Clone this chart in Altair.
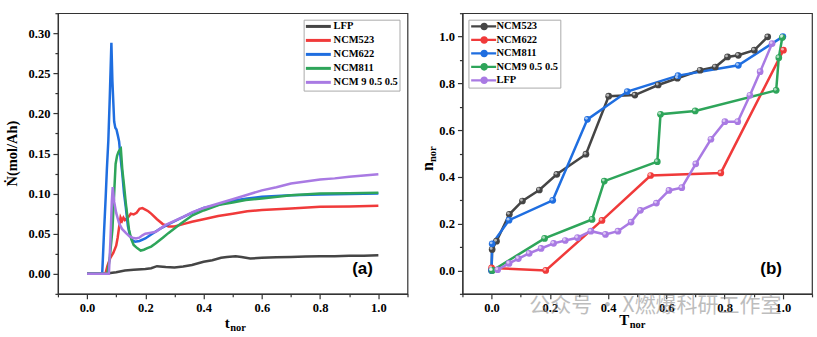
import altair as alt
import pandas as pd

# ---------------- panel (a) data ----------------
a_series = ["LFP", "NCM523", "NCM622", "NCM811", "NCM 9 0.5 0.5"]
a_colors = ["#454545", "#f03a3a", "#1f6ee0", "#2ea55a", "#a97ae3"]

lfp_t = [0, 0.065, 0.08, 0.1, 0.13, 0.16, 0.2, 0.22, 0.24, 0.27, 0.3, 0.33, 0.36, 0.4, 0.43, 0.46, 0.48, 0.51, 0.53, 0.56, 0.6, 0.65, 0.7, 0.75, 0.8, 0.85, 0.9, 0.95, 1.0]
lfp_v = [0, 0, 0.001, 0.002, 0.004, 0.005, 0.006, 0.007, 0.0095, 0.0085, 0.008, 0.009, 0.011, 0.015, 0.017, 0.020, 0.021, 0.022, 0.021, 0.019, 0.020, 0.0205, 0.021, 0.0215, 0.022, 0.022, 0.0225, 0.0225, 0.023]

n523_t = [0, 0.063, 0.07, 0.08, 0.09, 0.1, 0.105, 0.11, 0.115, 0.12, 0.125, 0.13, 0.14, 0.15, 0.16, 0.17, 0.18, 0.19, 0.2, 0.21, 0.22, 0.24, 0.26, 0.28, 0.3, 0.33, 0.36, 0.4, 0.45, 0.5, 0.55, 0.6, 0.7, 0.8, 0.9, 1.0]
n523_v = [0, 0, 0.01, 0.02, 0.026, 0.035, 0.045, 0.058, 0.07, 0.066, 0.07, 0.067, 0.07, 0.075, 0.074, 0.076, 0.081, 0.082, 0.08, 0.078, 0.075, 0.068, 0.062, 0.059, 0.059, 0.062, 0.065, 0.068, 0.072, 0.075, 0.078, 0.0795, 0.0815, 0.0835, 0.084, 0.085]

n622_t = [0, 0.052, 0.058, 0.064, 0.068, 0.073, 0.078, 0.0835, 0.087, 0.093, 0.097, 0.101, 0.106, 0.11, 0.115, 0.121, 0.127, 0.133, 0.14, 0.147, 0.155, 0.165, 0.18, 0.2, 0.22, 0.25, 0.28, 0.32, 0.36, 0.4, 0.45, 0.5, 0.55, 0.6, 0.7, 0.8, 0.9, 1.0]
n622_v = [0, 0, 0.05, 0.096, 0.13, 0.166, 0.22, 0.288, 0.24, 0.19, 0.182, 0.18, 0.172, 0.165, 0.145, 0.125, 0.1, 0.083, 0.06, 0.048, 0.042, 0.04, 0.041, 0.044, 0.049, 0.056, 0.062, 0.069, 0.076, 0.082, 0.086, 0.091, 0.094, 0.096, 0.098, 0.099, 0.0995, 0.1]

n811_t = [0, 0.07, 0.078, 0.087, 0.093, 0.098, 0.103, 0.108, 0.113, 0.116, 0.121, 0.127, 0.133, 0.139, 0.144, 0.152, 0.16, 0.172, 0.184, 0.195, 0.207, 0.22, 0.236, 0.26, 0.28, 0.32, 0.362, 0.4, 0.454, 0.5, 0.545, 0.6, 0.7, 0.8, 0.9, 1.0]
n811_v = [0, 0, 0.02, 0.055, 0.1, 0.137, 0.147, 0.152, 0.155, 0.156, 0.13, 0.11, 0.088, 0.07, 0.055, 0.043, 0.036, 0.032, 0.029, 0.03, 0.032, 0.034, 0.038, 0.045, 0.051, 0.062, 0.073, 0.079, 0.086, 0.089, 0.092, 0.094, 0.098, 0.1, 0.1005, 0.101]

n9_t = [0, 0.075, 0.08, 0.085, 0.088, 0.093, 0.1, 0.11, 0.12, 0.133, 0.145, 0.156, 0.168, 0.179, 0.19, 0.2, 0.215, 0.236, 0.25, 0.27, 0.3, 0.33, 0.362, 0.4, 0.454, 0.5, 0.545, 0.6, 0.65, 0.7, 0.75, 0.8, 0.85, 0.9, 0.95, 1.0]
n9_v = [0, 0, 0.04, 0.09, 0.108, 0.09, 0.076, 0.063, 0.056, 0.051, 0.047, 0.045, 0.044, 0.045, 0.048, 0.05, 0.051, 0.0525, 0.056, 0.061, 0.066, 0.071, 0.077, 0.082, 0.088, 0.093, 0.098, 0.104, 0.108, 0.1125, 0.115, 0.1175, 0.119, 0.121, 0.1225, 0.124]

# ---------------- panel (b) data ----------------
b_series = ["NCM523", "NCM622", "NCM811", "NCM9 0.5 0.5", "LFP"]
b_colors = ["#454545", "#f03a3a", "#1f6ee0", "#2ea55a", "#a97ae3"]

b523_T = [0.0, 0.002, 0.017, 0.061, 0.106, 0.164, 0.224, 0.324, 0.402, 0.492, 0.572, 0.638, 0.716, 0.768, 0.81, 0.847, 0.902, 0.948]
b523_n = [0.0, 0.09, 0.125, 0.24, 0.297, 0.344, 0.411, 0.497, 0.745, 0.75, 0.793, 0.822, 0.856, 0.87, 0.913, 0.92, 0.942, 0.999]

b622_T = [0.0, 0.186, 0.379, 0.546, 0.787, 1.002]
b622_n = [0.011, 0.0, 0.214, 0.406, 0.417, 0.942]

b811_T = [0.0, 0.002, 0.06, 0.21, 0.329, 0.466, 0.64, 0.847, 1.0]
b811_n = [0.0, 0.114, 0.215, 0.3, 0.646, 0.765, 0.833, 0.877, 1.0]

b9_T = [0.003, 0.182, 0.345, 0.387, 0.569, 0.58, 0.699, 0.977, 0.986, 0.998]
b9_n = [0.0, 0.137, 0.218, 0.382, 0.465, 0.668, 0.682, 0.77, 0.91, 0.996]

blfp_T = [0.021, 0.06, 0.092, 0.129, 0.17, 0.213, 0.253, 0.295, 0.341, 0.391, 0.434, 0.479, 0.511, 0.566, 0.609, 0.653, 0.701, 0.753, 0.801, 0.845, 0.887, 0.922, 0.963]
blfp_n = [0.003, 0.03, 0.051, 0.073, 0.094, 0.116, 0.128, 0.14, 0.168, 0.154, 0.168, 0.207, 0.257, 0.288, 0.342, 0.354, 0.456, 0.561, 0.636, 0.636, 0.749, 0.85, 0.97]

# ---------------- tick values ----------------
x_ticks = [-0.1, 0.0, 0.1, 0.2, 0.3, 0.4, 0.5, 0.6, 0.7, 0.8, 0.9, 1.0, 1.1]
ya_ticks = [-0.025, 0.0, 0.025, 0.05, 0.075, 0.1, 0.125, 0.15, 0.175, 0.2, 0.225, 0.25, 0.275, 0.3, 0.325]
yb_ticks = [-0.1, 0.0, 0.1, 0.2, 0.3, 0.4, 0.5, 0.6, 0.7, 0.8, 0.9, 1.0, 1.1]


def long_df(names, xs, ys, xname, yname, key):
    rows = []
    for name, xv, yv in zip(names, xs, ys):
        for i, (a, b) in enumerate(zip(xv, yv)):
            rows.append({xname: a, yname: b, key: name, "idx": i})
    return pd.DataFrame(rows)


df_a = long_df(a_series, [lfp_t, n523_t, n622_t, n811_t, n9_t],
               [lfp_v, n523_v, n622_v, n811_v, n9_v], "t", "v", "series")
df_b = long_df(b_series, [b523_T, b622_T, b811_T, b9_T, blfp_T],
               [b523_n, b622_n, b811_n, b9_n, blfp_n], "T", "n", "sample")

SERIF = "Liberation Serif"
FRAME = "#333333"


def make_axis(values, mult, fmt):
    test = f"abs(datum.value*{mult} - round(datum.value*{mult})) < 1e-6"
    return alt.Axis(
        values=values,
        labelExpr=f"({test}) ? format(datum.value, '{fmt}') : ''",
        tickSize={"condition": {"test": test, "value": 5}, "value": 3},
        title=None, grid=False, domainColor=FRAME, tickColor=FRAME,
        domainWidth=1.2, tickWidth=1.2,
        labelFont=SERIF, labelFontWeight="bold", labelFontSize=12.5,
        labelColor="black", labelPadding=3, labelOverlap=False, labelFlush=False,
    )


def txt(text, x, y, size, font=SERIF, angle=0, align="center",
        baseline="alphabetic", color="black", weight="bold", opacity=1.0):
    return alt.Chart(pd.DataFrame({"s": [text]})).mark_text(
        font=font, fontSize=size, fontWeight=weight, angle=angle, align=align,
        baseline=baseline, color=color, opacity=opacity,
    ).encode(text="s:N", x=alt.value(x), y=alt.value(y))


W, H = 350, 281
SYM_A = 36  # legend (a) symbol size -> unit scale 3 px
SYM_B = 64  # legend (b) symbol size -> unit scale 4 px

# ---------------- chart (a) ----------------
xa = alt.X("t:Q", scale=alt.Scale(domain=[-0.1, 1.1], nice=False, zero=False),
           axis=make_axis(x_ticks, 5, ".1f"))
ya = alt.Y("v:Q", scale=alt.Scale(domain=[-0.025, 0.325], nice=False, zero=False),
           axis=make_axis(ya_ticks, 20, ".2f"))

lines_a = alt.Chart(df_a).mark_line(strokeWidth=2.5).encode(
    x=xa, y=ya,
    color=alt.Color("series:N", scale=alt.Scale(domain=a_series, range=a_colors),
                    legend=alt.Legend(
                        title=None, orient="none", legendX=246, legendY=6.5,
                        symbolType="M-1.5,0H6.83", symbolSize=SYM_A, symbolStrokeWidth=3,
                        labelFont=SERIF, labelFontWeight="bold", labelFontSize=10.5,
                        labelColor="black", strokeColor="#aaaaaa", fillColor="white",
                        padding=1.5, rowPadding=1, labelOffset=18)),
    order="idx:Q",
)

chart_a = alt.layer(
    lines_a,
    txt("Ṅ(mol/Ah)", -41, 140.5, 14.5, angle=270),
    txt("t", 172, 315, 15, align="right"),
    txt("nor", 172.5, 318, 10.5, align="left"),
    txt("(a)", 305, 261, 17, font="Liberation Sans"),
).properties(width=W, height=H)

# ---------------- chart (b) ----------------
xb = alt.X("T:Q", scale=alt.Scale(domain=[-0.1, 1.1], nice=False, zero=False),
           axis=make_axis(x_ticks, 5, ".1f"))
yb = alt.Y("n:Q", scale=alt.Scale(domain=[-0.1, 1.1], nice=False, zero=False),
           axis=make_axis(yb_ticks, 5, ".1f"))
cscale_b = alt.Scale(domain=b_series, range=b_colors)

legend_path = ("M-1,-0.3H5.25V0.3H-1Z M3.19,0A0.94,0.94,0,1,1,1.31,0"
               "A0.94,0.94,0,1,1,3.19,0Z")
legend_b = alt.Legend(
    title=None, orient="none", legendX=6, legendY=6.5,
    symbolType=legend_path, symbolSize=SYM_B, symbolStrokeWidth=0,
    labelFont=SERIF, labelFontWeight="bold", labelFontSize=10.5,
    labelColor="black", strokeColor="#aaaaaa", fillColor="white",
    padding=1.5, rowPadding=2.5, labelOffset=16)

lines_b = alt.Chart(df_b).mark_line(strokeWidth=2.5).encode(
    x=xb, y=yb, color=alt.Color("sample:N", scale=cscale_b),
    order="idx:Q",
)
points_b = alt.Chart(df_b).mark_point(filled=True, size=45, opacity=1).encode(
    x=xb, y=yb,
    color=alt.Color("sample:N", scale=cscale_b, legend=legend_b),
)
shine_b = alt.Chart(df_b).mark_point(filled=True, size=8, opacity=0.6, color="white").encode(
    x=xb, y=yb, xOffset=alt.value(-1), yOffset=alt.value(-1),
)

chart_b = alt.layer(
    lines_b, points_b, shine_b,
    txt("n", -29, 149, 16, angle=270, align="right"),
    txt("nor", -26, 149, 10.5, angle=270, align="left"),
    txt("T", 167, 312, 15, align="right"),
    txt("nor", 167.5, 315, 10.5, align="left"),
    txt("(b)", 309, 261, 17, font="Liberation Sans"),
    txt("公众号 · X燃爆科研工作室", 67, 299, 21, font="Noto Sans CJK SC",
        align="left", color="#888888", weight="normal", opacity=0.55),
).properties(width=W, height=H)

chart = alt.hconcat(chart_a, chart_b, spacing=10).resolve_scale(
    color="independent"
).configure(
    padding={"left": 4, "top": 6, "right": 3, "bottom": 2},
    background="white",
).configure_view(stroke=FRAME, strokeWidth=1.2)

chart.save("out.html", embed_options={"renderer": "svg", "actions": False})
